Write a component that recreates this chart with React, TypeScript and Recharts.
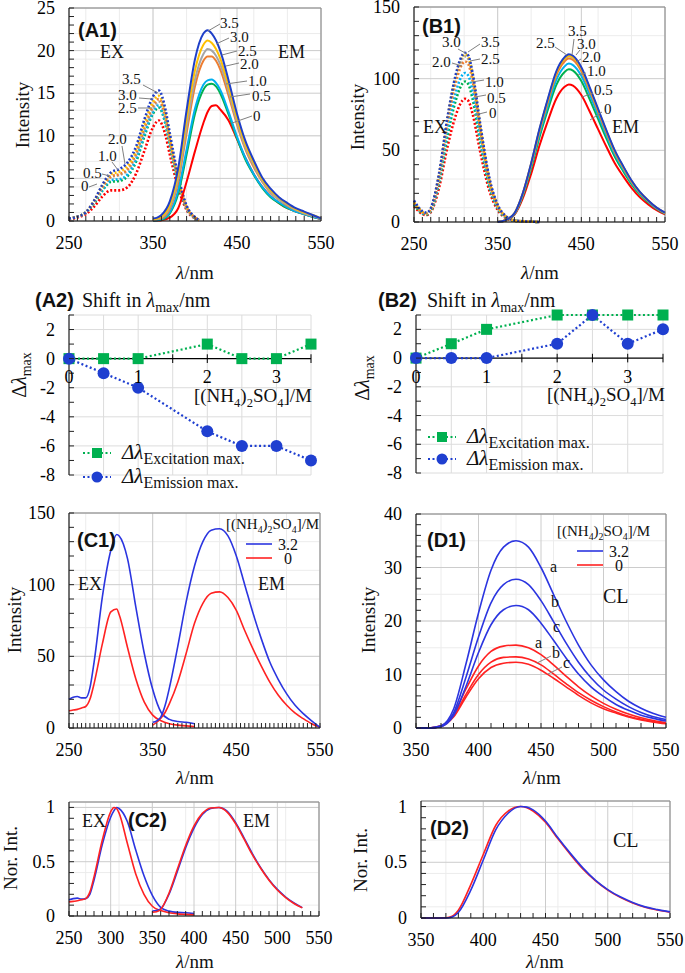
import React from "react";
import { LineChart, Line, XAxis, YAxis, CartesianGrid, ReferenceLine, ReferenceDot } from "recharts";

const SERIF = '"Liberation Serif", "Times New Roman", serif';
const SANS = '"Liberation Sans", Arial, sans-serif';

// colours per (NH4)2SO4 concentration (A1, B1)
const C0 = "#ff0000";
const C05 = "#00b050";
const C10 = "#00b0f0";
const C20 = "#ed7d31";
const C25 = "#a5a5a5";
const C30 = "#ffc000";
const C35 = "#1f3fc8";
const BLUE = "#2b35e0";
const RED = "#ff2222";
const GREEN = "#00b050";

// ---------- A1 ----------
const a1ExWl = [250, 260, 270, 280, 290, 300, 310, 320, 330, 340, 350, 357, 365, 370, 380, 390, 400, 405];
const a1Ex0 = [0.2, 0.4, 0.8, 1.7, 2.9, 3.6, 3.6, 4.0, 5.6, 8.3, 11.0, 11.8, 10.0, 7.8, 3.9, 1.3, 0.3, 0.1];
const a1Ex05 = [0.3, 0.5, 1.0, 2.1, 3.6, 4.6, 4.7, 5.3, 7.0, 10.0, 12.6, 13.3, 11.3, 8.9, 4.5, 1.5, 0.35, 0.1];
const a1Ex10 = [0.3, 0.5, 1.0, 2.2, 3.7, 4.8, 4.9, 5.5, 7.3, 10.3, 12.8, 13.6, 11.5, 9.1, 4.6, 1.5, 0.35, 0.1];
const a1Ex20 = [0.3, 0.5, 1.0, 2.3, 4.0, 5.2, 5.5, 6.1, 8.0, 11.0, 13.5, 14.3, 12.1, 9.5, 4.8, 1.6, 0.4, 0.1];
const a1Ex25 = [0.3, 0.5, 1.0, 2.3, 4.0, 5.2, 5.4, 6.0, 7.8, 10.8, 13.2, 14.0, 11.9, 9.3, 4.7, 1.6, 0.4, 0.1];
const a1Ex30 = [0.3, 0.5, 1.0, 2.4, 4.2, 5.5, 5.8, 6.5, 8.4, 11.5, 14.0, 14.7, 12.5, 9.8, 5.0, 1.7, 0.4, 0.1];
const a1Ex35 = [0.3, 0.5, 1.0, 2.4, 4.3, 5.7, 6.1, 6.9, 8.8, 12.0, 14.6, 15.3, 13.0, 10.3, 5.3, 1.8, 0.45, 0.1];

const a1EmWl = [350, 355, 360, 370, 380, 390, 400, 410, 415, 420, 425, 430, 440, 450, 460, 470, 480, 490, 500, 510, 520, 530, 540, 550];
const a1Em0 = [0, 0.05, 0.1, 0.4, 1.5, 4.6, 8.2, 11.5, 12.8, 13.5, 13.6, 13.1, 11.8, 9.6, 7.4, 5.5, 4.0, 2.9, 2.1, 1.5, 1.1, 0.8, 0.5, 0.2];
const a1Em05 = [0.05, 0.1, 0.15, 0.9, 3.2, 7.8, 12.6, 15.4, 16.0, 16.1, 15.8, 15.0, 12.5, 9.7, 7.2, 5.4, 3.9, 2.8, 2.1, 1.5, 1.1, 0.8, 0.5, 0.25];
const a1Em10 = [0.05, 0.1, 0.2, 1.0, 3.6, 8.4, 13.2, 16.0, 16.5, 16.6, 16.2, 15.4, 12.8, 9.9, 7.4, 5.5, 4.0, 2.9, 2.2, 1.6, 1.1, 0.8, 0.5, 0.25];
const a1Em20 = [0.1, 0.2, 0.3, 1.4, 4.6, 10.3, 15.8, 18.8, 19.3, 19.3, 18.8, 17.8, 14.7, 11.3, 8.4, 6.3, 4.6, 3.3, 2.5, 1.8, 1.3, 0.9, 0.6, 0.3];
const a1Em25 = [0.1, 0.2, 0.4, 1.6, 5.0, 11.0, 16.6, 19.6, 20.2, 20.0, 19.4, 18.4, 15.2, 11.6, 8.6, 6.5, 4.7, 3.4, 2.5, 1.9, 1.3, 0.9, 0.6, 0.3];
const a1Em30 = [0.2, 0.3, 0.5, 1.9, 5.6, 12.0, 17.7, 20.7, 21.2, 20.9, 20.2, 19.1, 15.8, 12.1, 9.0, 6.8, 4.9, 3.6, 2.7, 2.0, 1.4, 1.0, 0.7, 0.3];
const a1Em35 = [0.3, 0.4, 0.7, 2.3, 6.2, 13.0, 19.0, 22.0, 22.4, 22.0, 21.2, 20.0, 16.5, 12.6, 9.4, 7.1, 5.1, 3.8, 2.8, 2.1, 1.5, 1.1, 0.7, 0.3];

// ---------- B1 ----------
const b1ExWl = [250, 255, 260, 265, 270, 280, 290, 300, 305, 311, 315, 320, 330, 340, 350, 360, 370, 380, 390, 400];
const b1Ex0 = [11, 7.8, 5.4, 4.8, 6.8, 24, 52.5, 74.5, 82, 86, 84.5, 75.5, 46.5, 22, 8.4, 2.7, 0.8, 0.3, 0.2, 0];
const b1Ex05 = [12, 8.6, 6, 5.3, 7.6, 27.5, 60, 85, 93.5, 98, 96, 86, 53, 25, 9.6, 3.1, 0.9, 0.4, 0.2, 0];
const b1Ex10 = [12.5, 9, 6.3, 5.6, 8, 29, 64, 90.5, 99.5, 104, 102, 91.5, 56.5, 26.5, 10.2, 3.3, 1, 0.4, 0.2, 0];
const b1Ex20 = [13, 9.5, 6.7, 6, 8.6, 31.5, 69, 97.5, 107, 112, 110, 98.5, 61, 28.5, 11, 3.6, 1.1, 0.5, 0.3, 0];
const b1Ex25 = [13.5, 9.8, 6.9, 6.1, 8.9, 32.5, 71, 100.5, 110.5, 115.5, 113.5, 101.5, 63, 29.5, 11.3, 3.7, 1.1, 0.5, 0.3, 0];
const b1Ex30 = [14, 10, 7, 6.2, 9, 33, 72, 102, 112, 117, 115, 103, 64, 30, 11.5, 3.8, 1.1, 0.5, 0.3, 0];
const b1Ex35 = [15, 10.5, 7.5, 6.5, 9.5, 34, 73, 103, 113, 118, 116, 104, 65, 31, 12, 4, 1.2, 0.5, 0.3, 0];

const b1EmWl = [350, 355, 360, 370, 380, 390, 400, 410, 420, 430, 435, 440, 450, 460, 470, 480, 490, 500, 510, 520, 530, 540, 550];
const b1Em0 = [0, 0.35, 1.2, 4.9, 16.4, 33.6, 53.4, 70.6, 86, 94.3, 96, 95.2, 88.6, 77.1, 64.8, 52.5, 41, 32, 23.8, 17.2, 12.3, 8.2, 5.3];
const b1Em05 = [0, 0.4, 1.3, 5.4, 18.2, 37.3, 59.2, 78.3, 95.5, 104.7, 106.5, 105.6, 98.3, 85.6, 71.9, 58.2, 45.5, 35.5, 26.4, 19.1, 13.7, 9.1, 5.9];
const b1Em10 = [0, 0.4, 1.4, 5.6, 18.9, 38.7, 61.4, 81.2, 99, 108.6, 110.5, 109.5, 102, 88.8, 74.6, 60.4, 47.2, 36.8, 27.4, 19.8, 14.2, 9.4, 6.1];
const b1Em20 = [0, 0.5, 1.4, 5.8, 19.5, 40, 63.3, 83.8, 102.2, 112, 114, 113, 105.2, 91.6, 77, 62.3, 48.7, 38, 28.2, 20.5, 14.6, 9.7, 6.3];
const b1Em25 = [0, 0.5, 1.5, 5.9, 19.7, 40.4, 64.1, 84.8, 103.5, 113.5, 115.5, 114.5, 106.5, 92.8, 78, 63.1, 49.3, 38.5, 28.6, 20.7, 14.8, 9.9, 6.4];
const b1Em30 = [0, 0.5, 1.5, 6, 19.8, 40.6, 64.4, 85.2, 104, 114, 116, 115, 107, 93.2, 78.3, 63.4, 49.5, 38.6, 28.7, 20.8, 14.9, 9.9, 6.4];
const b1Em35 = [0, 0.5, 1.5, 6, 20, 41, 65, 86, 105, 115, 117, 116, 108, 94, 79, 64, 50, 39, 29, 21, 15, 10, 6.5];

// ---------- A2 / B2 : shift in lambda max ----------
const conc = [0, 0.5, 1, 2, 2.5, 3, 3.5];
const a2Excitation = [0, 0, 0, 1, 0, 0, 1];
const a2Emission = [0, -1, -2, -5, -6, -6, -7];
const b2Excitation = [0, 1, 2, 3, 3, 3, 3];
const b2Emission = [0, 0, 0, 1, 3, 1, 2];
const shiftXTicks = [0.5, 1, 1.5, 2, 2.5, 3, 3.5];
const shiftXLabels = [0, 1, 2, 3];
const shiftYLabels = [-8, -6, -4, -2, 0, 2];

// ---------- C1 ----------
const c1ExWl = [250, 255, 260, 265, 270, 275, 280, 290, 300, 307, 310, 320, 330, 340, 350, 360, 370, 380, 390, 400];
const c1Ex32 = [20, 21.5, 22, 21, 21, 28, 46, 92, 124, 135, 134, 118, 84, 52, 27, 11, 6, 4.5, 4, 3];
const c1Ex0 = [12, 12.5, 13, 14, 15, 20, 31, 59, 81, 83, 79, 56, 34, 18, 9, 5, 3, 2, 1.5, 1];
const c1EmWl = [350, 355, 360, 365, 370, 380, 390, 400, 410, 420, 430, 440, 450, 460, 470, 480, 490, 500, 510, 520, 530, 540, 550];
const c1Em32 = [4, 5, 8, 16, 28, 57, 88, 113, 130, 138, 139, 134, 120, 100, 80, 62, 46, 34, 24, 16, 10, 5, 0.5];
const c1Em0 = [2, 4, 7, 11, 17, 32, 52, 73, 87, 94, 95, 91, 82, 68, 55, 43, 32, 23, 16, 10.5, 6.5, 3, 0.5];

// ---------- C2 (normalised) ----------
const c2ExWl = [250, 255, 260, 265, 270, 275, 280, 290, 300, 304, 307, 310, 320, 330, 340, 350, 360, 370, 380, 390, 400];
const c2Ex32 = [0.15, 0.16, 0.165, 0.155, 0.16, 0.2, 0.33, 0.66, 0.91, 0.97, 1, 0.99, 0.87, 0.61, 0.37, 0.19, 0.08, 0.045, 0.033, 0.03, 0.022];
const c2Ex0 = [0.13, 0.135, 0.14, 0.15, 0.16, 0.22, 0.36, 0.7, 0.96, 1, 0.99, 0.95, 0.67, 0.39, 0.2, 0.09, 0.05, 0.03, 0.02, 0.015, 0.01];
const c2EmWl = [350, 355, 360, 370, 380, 390, 400, 410, 420, 430, 440, 450, 460, 470, 480, 490, 500, 510, 520, 530];
const c2Em32 = [0.045, 0.05, 0.065, 0.2, 0.41, 0.63, 0.81, 0.935, 0.99, 1, 0.965, 0.86, 0.72, 0.575, 0.445, 0.335, 0.245, 0.175, 0.12, 0.077];
const c2Em0 = [0.035, 0.04, 0.06, 0.21, 0.43, 0.65, 0.83, 0.945, 0.995, 1, 0.955, 0.85, 0.71, 0.565, 0.44, 0.33, 0.24, 0.17, 0.115, 0.075];

// ---------- D1 (CL, runs a, b, c) ----------
const d1Wl = [350, 360, 370, 380, 390, 400, 410, 420, 430, 440, 450, 460, 470, 480, 490, 500, 510, 520, 530, 540, 550];
const d1HighA = [0, 0, 0.4, 3.5, 12, 21.5, 29.5, 33.8, 35, 33.8, 30, 25, 20, 15.5, 11.8, 9, 6.8, 5, 3.7, 2.7, 2];
const d1HighB = [0, 0, 0.3, 2.8, 9.5, 17, 23.4, 26.8, 27.8, 26.8, 23.8, 19.9, 15.9, 12.3, 9.4, 7.1, 5.4, 4, 2.9, 2.1, 1.6];
const d1HighC = [0, 0, 0.26, 2.3, 7.8, 14.1, 19.3, 22.1, 22.9, 22.1, 19.6, 16.4, 13.1, 10.1, 7.7, 5.9, 4.4, 3.3, 2.4, 1.8, 1.3];
const d1ZeroA = [0, 0, 0.4, 2.6, 7.3, 11.6, 14.3, 15.3, 15.5, 15, 13.7, 11.8, 9.7, 7.7, 6, 4.6, 3.5, 2.6, 1.9, 1.4, 1];
const d1ZeroB = [0, 0, 0.35, 2.2, 6.3, 10, 12.3, 13.2, 13.3, 12.9, 11.8, 10.1, 8.3, 6.6, 5.2, 4, 3, 2.2, 1.65, 1.2, 0.85];
const d1ZeroC = [0, 0, 0.3, 2.05, 5.8, 9.2, 11.3, 12.1, 12.3, 11.9, 10.8, 9.3, 7.7, 6.1, 4.7, 3.6, 2.8, 2.05, 1.5, 1.1, 0.8];

// ---------- D2 (normalised CL) ----------
const d2Wl = [350, 360, 370, 375, 380, 390, 400, 410, 420, 430, 435, 440, 450, 460, 470, 480, 490, 500, 510, 520, 530, 540, 550];
const d2High = [0, 0, 0, 0.01, 0.05, 0.25, 0.52, 0.79, 0.94, 1, 0.995, 0.97, 0.87, 0.72, 0.58, 0.45, 0.34, 0.255, 0.19, 0.14, 0.1, 0.075, 0.055];
const d2Zero = [0, 0, 0.002, 0.015, 0.07, 0.3, 0.57, 0.83, 0.96, 1, 0.99, 0.96, 0.86, 0.71, 0.57, 0.44, 0.335, 0.25, 0.185, 0.135, 0.097, 0.072, 0.052];

// ---------- helpers ----------
type Pt = { x: number; y: number };
const pts = (xs: number[], ys: number[]): Pt[] => xs.map((x, i) => ({ x, y: ys[i] }));
const range = (a: number, b: number, s: number) => {
  const out: number[] = [];
  for (let v = a; v <= b + 1e-9; v += s) out.push(Math.round(v * 1000) / 1000);
  return out;
};
const has = (arr: number[], v: number) => arr.some((a) => Math.abs(a - v) < 1e-6);

type Series = {
  data: Pt[];
  color: string;
  width?: number;
  dash?: string;
  linear?: boolean;
  dot?: any;
};

const ex = (xs: number[], ys: number[], color: string): Series => ({ data: pts(xs, ys), color, width: 2.6, dash: "2 2" });
const em = (xs: number[], ys: number[], color: string): Series => ({ data: pts(xs, ys), color, width: 2 });
const thin = (xs: number[], ys: number[], color: string): Series => ({ data: pts(xs, ys), color, width: 1.6 });

const squareDot = (color: string) => (p: any) => (
  <rect key={`s${p.index}`} x={p.cx - 5.5} y={p.cy - 5.5} width={11} height={11} fill={color} />
);
const circleDot = (color: string) => (p: any) => (
  <circle key={`c${p.index}`} cx={p.cx} cy={p.cy} r={6} fill={color} />
);

const tickText = { fontFamily: SERIF, fontSize: 18 };

const xTick = (labels: number[], len: number) => (p: any) => {
  const v = p.payload.value;
  return (
    <g>
      <line x1={p.x} x2={p.x} y1={p.y} y2={p.y - len} stroke="#222" strokeWidth={1} />
      {has(labels, v) && (
        <text x={p.x} y={p.y + 28} textAnchor="middle" fontSize={18} fontFamily={SERIF} style={tickText} fill="#000">
          {v}
        </text>
      )}
    </g>
  );
};

const yTick = (labels: number[], len: number) => (p: any) => {
  const v = p.payload.value;
  return (
    <g>
      <line x1={p.x} x2={p.x + len} y1={p.y} y2={p.y} stroke="#222" strokeWidth={1} />
      {has(labels, v) && (
        <text x={p.x - 14} y={p.y + 6} textAnchor="end" fontSize={18} fontFamily={SERIF} style={tickText} fill="#000">
          {v}
        </text>
      )}
    </g>
  );
};

type PanelProps = {
  left: number;
  top: number;
  w: number;
  h: number;
  xDomain: [number, number];
  yDomain: [number, number];
  xTicks: number[];
  xLabels: number[];
  yTicks: number[];
  yLabels: number[];
  gridX: number[];
  gridY: number[];
  majorX: number[];
  majorY: number[];
  series: Series[];
  zeroAxis?: boolean;
  border?: boolean;
  gridColor?: string;
  majorColor?: string;
};

function Panel(props: PanelProps) {
  const {
    left, top, w, h, xDomain, yDomain, xTicks, xLabels, yTicks, yLabels,
    gridX, gridY, majorX, majorY, series, zeroAxis = false, border = true,
    gridColor = "#ececec", majorColor = "#cccccc",
  } = props;
  const YW = 60;
  const MT = 12;
  const MR = 22;
  const XH = 40;
  return (
    <div style={{ position: "absolute", left: left - YW, top: top - MT }}>
      <LineChart
        width={w + YW + MR}
        height={h + MT + XH}
        margin={{ top: MT, right: MR, left: 0, bottom: 0 }}
        style={{ fontFamily: SERIF }}
      >
        <XAxis xAxisId="m" type="number" dataKey="x" domain={xDomain} ticks={gridX} hide allowDataOverflow />
        <YAxis yAxisId="m" type="number" domain={yDomain} ticks={gridY} hide allowDataOverflow />
        <XAxis xAxisId="g" type="number" dataKey="x" domain={xDomain} ticks={majorX.length ? majorX : [xDomain[0]]} hide allowDataOverflow />
        <YAxis yAxisId="g" type="number" domain={yDomain} ticks={majorY.length ? majorY : [yDomain[0]]} hide allowDataOverflow />
        <CartesianGrid xAxisId="m" yAxisId="m" stroke={gridColor} vertical={gridX.length > 0} horizontal={gridY.length > 0} />
        {(majorX.length > 0 || majorY.length > 0) && (
          <CartesianGrid xAxisId="g" yAxisId="g" stroke={majorColor} vertical={majorX.length > 0} horizontal={majorY.length > 0} />
        )}
        {zeroAxis ? (
          <XAxis xAxisId={0} type="number" dataKey="x" domain={xDomain} height={XH} tick={false} axisLine={false} tickLine={false} />
        ) : (
          <XAxis
            xAxisId={0}
            type="number"
            dataKey="x"
            domain={xDomain}
            ticks={xTicks}
            interval={0}
            height={XH}
            tickSize={0}
            tickMargin={0}
            tickLine={false}
            axisLine={{ stroke: "#000", strokeWidth: 1 }}
            tick={xTick(xLabels, 5)}
          />
        )}
        <YAxis
          yAxisId={0}
          type="number"
          domain={yDomain}
          ticks={yTicks}
          interval={0}
          width={YW}
          tickSize={0}
          tickMargin={0}
          tickLine={false}
          axisLine={{ stroke: "#000", strokeWidth: 1 }}
          tick={yTick(yLabels, 5)}
        />
        {border && <ReferenceLine xAxisId={0} yAxisId={0} y={yDomain[1]} stroke="#8a8a8a" />}
        {border && <ReferenceLine xAxisId={0} yAxisId={0} x={xDomain[1]} stroke="#8a8a8a" />}
        {zeroAxis && <ReferenceLine xAxisId={0} yAxisId={0} y={0} stroke="#000" strokeWidth={1.2} />}
        {zeroAxis &&
          shiftXTicks.map((v) => (
            <ReferenceLine
              key={`t${v}`}
              xAxisId={0}
              yAxisId={0}
              segment={[{ x: v, y: -0.3 }, { x: v, y: 0.3 }]}
              stroke="#000"
            />
          ))}
        {zeroAxis &&
          shiftXLabels.map((v) => (
            <ReferenceDot
              key={`l${v}`}
              xAxisId={0}
              yAxisId={0}
              x={v}
              y={0}
              r={0}
              fill="none"
              stroke="none"
              label={{ value: String(v), position: "bottom", offset: 12, fontSize: 18, fontFamily: SERIF, fill: "#000", style: tickText }}
            />
          ))}
        {series.map((s, i) => (
          <Line
            key={i}
            xAxisId={0}
            yAxisId={0}
            data={s.data}
            dataKey="y"
            type={s.linear ? "linear" : "monotone"}
            stroke={s.color}
            strokeWidth={s.width ?? 1.6}
            strokeDasharray={s.dash}
            dot={s.dot ?? false}
            activeDot={false}
            isAnimationActive={false}
          />
        ))}
      </LineChart>
    </div>
  );
}

// ---------- overlay text helpers ----------
const T = ({ x, y, s = 18, a = "start", b = false, f = SERIF, children }: any) => (
  <text x={x} y={y} fontSize={s} textAnchor={a} fontWeight={b ? 700 : 400} fontFamily={f} fill="#111">
    {children}
  </text>
);
const L = ({ x1, y1, x2, y2 }: any) => <line x1={x1} y1={y1} x2={x2} y2={y2} stroke="#808080" strokeWidth={1} />;
const Lam = ({ x, y }: any) => (
  <text x={x} y={y} fontSize={19} textAnchor="middle" fontFamily={SERIF} fill="#111">
    <tspan fontStyle="italic">λ</tspan>/nm
  </text>
);
const VT = ({ x, y, s = 19, children }: any) => (
  <text transform={`translate(${x},${y}) rotate(-90)`} fontSize={s} textAnchor="middle" dominantBaseline="central" fontFamily={SERIF} fill="#111">
    {children}
  </text>
);
const Salt = ({ x, y, s, a = "start" }: any) => {
  const sub = s * 0.66;
  const d = s * 0.28;
  return (
    <text x={x} y={y} fontSize={s} textAnchor={a} fontFamily={SERIF} fill="#111">
      [(NH<tspan fontSize={sub} dy={d}>4</tspan>
      <tspan dy={-d}>)</tspan>
      <tspan fontSize={sub} dy={d}>2</tspan>
      <tspan dy={-d}>SO</tspan>
      <tspan fontSize={sub} dy={d}>4</tspan>
      <tspan dy={-d}>]/M</tspan>
    </text>
  );
};
const Shift = ({ x, y }: any) => (
  <text x={x} y={y} fontSize={20} fontFamily={SERIF} fill="#111">
    Shift in <tspan fontStyle="italic">λ</tspan>
    <tspan fontSize={14} dy={5}>max</tspan>
    <tspan dy={-5}>/nm</tspan>
  </text>
);
const DLmax = ({ x, y }: any) => (
  <text transform={`translate(${x},${y}) rotate(-90)`} fontSize={20} textAnchor="middle" fontFamily={SERIF} fill="#111">
    Δ<tspan fontStyle="italic">λ</tspan>
    <tspan fontSize={14} dy={5}>max</tspan>
  </text>
);
const LegRow = ({ x, y, color, marker, label }: any) => (
  <g>
    <line x1={x} x2={x + 28} y1={y} y2={y} stroke={color} strokeWidth={2.2} strokeDasharray="2 2.5" />
    {marker === "square" ? (
      <rect x={x + 9} y={y - 5} width={10} height={10} fill={color} />
    ) : (
      <circle cx={x + 14} cy={y} r={5.5} fill={color} />
    )}
    <text x={x + 39} y={y + 6} fontSize={21} fontFamily={SERIF} fill="#111">
      <tspan fontStyle="italic">Δλ</tspan>
      <tspan fontSize={16} dy={5}>{label}</tspan>
    </text>
  </g>
);
const SwatchLeg = ({ x, y, s = 15 }: any) => (
  <g>
    <Salt x={x} y={y} s={s} />
    <line x1={x + 20} x2={x + 46} y1={y + 15} y2={y + 15} stroke={BLUE} strokeWidth={1.6} />
    <T x={x + 52} y={y + 21} s={16}>3.2</T>
    <line x1={x + 20} x2={x + 46} y1={y + 29} y2={y + 29} stroke={RED} strokeWidth={1.6} />
    <T x={x + 58} y={y + 35} s={16}>0</T>
  </g>
);

export default function App() {
  const a1Series: Series[] = [
    ex(a1ExWl, a1Ex0, C0), ex(a1ExWl, a1Ex05, C05), ex(a1ExWl, a1Ex10, C10), ex(a1ExWl, a1Ex25, C25),
    ex(a1ExWl, a1Ex20, C20), ex(a1ExWl, a1Ex30, C30), ex(a1ExWl, a1Ex35, C35),
    em(a1EmWl, a1Em0, C0), em(a1EmWl, a1Em05, C05), em(a1EmWl, a1Em10, C10), em(a1EmWl, a1Em20, C20),
    em(a1EmWl, a1Em25, C25), em(a1EmWl, a1Em30, C30), em(a1EmWl, a1Em35, C35),
  ];
  const b1Series: Series[] = [
    ex(b1ExWl, b1Ex0, C0), ex(b1ExWl, b1Ex05, C05), ex(b1ExWl, b1Ex10, C10), ex(b1ExWl, b1Ex25, C25),
    ex(b1ExWl, b1Ex20, C20), ex(b1ExWl, b1Ex30, C30), ex(b1ExWl, b1Ex35, C35),
    em(b1EmWl, b1Em0, C0), em(b1EmWl, b1Em05, C05), em(b1EmWl, b1Em10, C10), em(b1EmWl, b1Em25, C25),
    em(b1EmWl, b1Em20, C20), em(b1EmWl, b1Em30, C30), em(b1EmWl, b1Em35, C35),
  ];
  const shiftSeries = (exc: number[], emi: number[]): Series[] => [
    { data: pts(conc, exc), color: GREEN, width: 2.2, dash: "2 2.5", linear: true, dot: squareDot(GREEN) },
    { data: pts(conc, emi), color: "#1f3fd0", width: 2.2, dash: "2 2.5", linear: true, dot: circleDot("#1f3fd0") },
  ];
  const c1Series: Series[] = [
    thin(c1ExWl, c1Ex0, RED), thin(c1ExWl, c1Ex32, BLUE), thin(c1EmWl, c1Em0, RED), thin(c1EmWl, c1Em32, BLUE),
  ];
  const c2Series: Series[] = [
    thin(c2ExWl, c2Ex32, BLUE), thin(c2ExWl, c2Ex0, RED), thin(c2EmWl, c2Em32, BLUE), thin(c2EmWl, c2Em0, RED),
  ];
  const d1Series: Series[] = [
    thin(d1Wl, d1ZeroA, RED), thin(d1Wl, d1ZeroB, RED), thin(d1Wl, d1ZeroC, RED),
    thin(d1Wl, d1HighA, BLUE), thin(d1Wl, d1HighB, BLUE), thin(d1Wl, d1HighC, BLUE),
  ];
  const d2Series: Series[] = [thin(d2Wl, d2Zero, RED), thin(d2Wl, d2High, BLUE)];

  return (
    <div style={{ position: "absolute", left: 0, top: 0, width: 685, height: 973, background: "#fff", overflow: "hidden" }}>
      <Panel
        left={69} top={8} w={252} h={213}
        xDomain={[250, 550]} yDomain={[0, 25]}
        xTicks={range(250, 550, 10)} xLabels={[250, 350, 450, 550]}
        yTicks={range(0, 25, 1)} yLabels={[0, 5, 10, 15, 20, 25]}
        gridX={range(250, 550, 10)} gridY={range(0, 25, 1)}
        majorX={[350, 450]} majorY={[5, 10, 15, 20]}
        series={a1Series}
      />
      <Panel
        left={414} top={7} w={251} h={215}
        xDomain={[250, 550]} yDomain={[0, 150]}
        xTicks={range(250, 550, 10)} xLabels={[250, 350, 450, 550]}
        yTicks={range(0, 150, 10)} yLabels={[0, 50, 100, 150]}
        gridX={range(250, 550, 10)} gridY={range(0, 150, 10)}
        majorX={[350, 450]} majorY={[50, 100]}
        series={b1Series}
      />
      <Panel
        left={69} top={315} w={242} h={160}
        xDomain={[0, 3.5]} yDomain={[-8, 3]}
        xTicks={[]} xLabels={[]}
        yTicks={range(-8, 3, 1)} yLabels={shiftYLabels}
        gridX={range(0, 3.5, 0.5)} gridY={[-8, -6, -4, -2, 2]}
        majorX={[]} majorY={[]}
        series={shiftSeries(a2Excitation, a2Emission)}
        zeroAxis border={false} gridColor="#dcdcdc"
      />
      <Panel
        left={416} top={315} w={247} h={158}
        xDomain={[0, 3.5]} yDomain={[-8, 3]}
        xTicks={[]} xLabels={[]}
        yTicks={range(-8, 3, 1)} yLabels={shiftYLabels}
        gridX={range(0, 3.5, 0.5)} gridY={[-8, -6, -4, -2, 2]}
        majorX={[]} majorY={[]}
        series={shiftSeries(b2Excitation, b2Emission)}
        zeroAxis border={false} gridColor="#dcdcdc"
      />
      <Panel
        left={69} top={513} w={251} h={215}
        xDomain={[250, 550]} yDomain={[0, 150]}
        xTicks={range(250, 550, 5)} xLabels={[250, 350, 450, 550]}
        yTicks={range(0, 150, 10)} yLabels={[0, 50, 100, 150]}
        gridX={range(250, 550, 10)} gridY={range(0, 150, 10)}
        majorX={[350, 450]} majorY={[50, 100]}
        series={c1Series}
      />
      <Panel
        left={416} top={514} w={250} h={214}
        xDomain={[350, 550]} yDomain={[0, 40]}
        xTicks={range(350, 550, 10)} xLabels={[350, 400, 450, 500, 550]}
        yTicks={range(0, 40, 2)} yLabels={[0, 10, 20, 30, 40]}
        gridX={range(350, 550, 10)} gridY={range(0, 40, 5)}
        majorX={[400, 450, 500]} majorY={[10, 20, 30]}
        series={d1Series}
      />
      <Panel
        left={69} top={802} w={250} h={114}
        xDomain={[250, 550]} yDomain={[0, 1.05]}
        xTicks={range(250, 550, 10)} xLabels={[250, 300, 350, 400, 450, 500, 550]}
        yTicks={range(0, 1, 0.1)} yLabels={[0, 0.5, 1]}
        gridX={range(250, 550, 10)} gridY={range(0, 1, 0.1)}
        majorX={[300, 350, 400, 450, 500]} majorY={[0.5, 1]}
        series={c2Series}
      />
      <Panel
        left={421} top={801} w={249} h={117}
        xDomain={[350, 550]} yDomain={[0, 1.05]}
        xTicks={range(350, 550, 10)} xLabels={[350, 400, 450, 500, 550]}
        yTicks={range(0, 1, 0.1)} yLabels={[0, 0.5, 1]}
        gridX={range(350, 550, 10)} gridY={range(0, 1, 0.1)}
        majorX={[400, 450, 500]} majorY={[0.5, 1]}
        series={d2Series}
      />

      <svg width={685} height={973} style={{ position: "absolute", left: 0, top: 0, pointerEvents: "none" }}>
        {/* A1 */}
        <T x={78} y={37} s={20} b f={SANS}>(A1)</T>
        <T x={100} y={58}>EX</T>
        <T x={278} y={58}>EM</T>
        <T x={220} y={28} s={15}>3.5</T><L x1={208} y1={31} x2={220} y2={24} />
        <T x={230} y={42} s={15}>3.0</T><L x1={216} y1={44} x2={229} y2={38} />
        <T x={238} y={56} s={15}>2.5</T><L x1={222} y1={55} x2={237} y2={51} />
        <T x={240} y={69} s={15}>2.0</T><L x1={226} y1={66} x2={239} y2={63} />
        <T x={248} y={86} s={15}>1.0</T><L x1={226} y1={84} x2={247} y2={81} />
        <T x={252} y={101} s={15}>0.5</T><L x1={230} y1={97} x2={250} y2={94} />
        <T x={253} y={121} s={15}>0</T><L x1={232} y1={123} x2={252} y2={116} />
        <T x={122} y={84} s={15}>3.5</T><L x1={143} y1={85} x2={158} y2={93} />
        <T x={118} y={100} s={15}>3.0</T><L x1={139} y1={98} x2={152} y2={99} />
        <T x={118} y={113} s={15}>2.5</T><L x1={138} y1={108} x2={152} y2={108} />
        <T x={108} y={144} s={15}>2.0</T><L x1={122} y1={146} x2={125} y2={164} />
        <T x={98} y={161} s={15}>1.0</T><L x1={112} y1={162} x2={118} y2={170} />
        <T x={83} y={178} s={15}>0.5</T><L x1={102} y1={174} x2={110} y2={176} />
        <T x={81} y={191} s={15}>0</T><L x1={89} y1={187} x2={97} y2={184} />
        <VT x={22} y={115}>Intensity</VT>
        <Lam x={195} y={279} />

        {/* B1 */}
        <T x={422} y={33} s={20} b f={SANS}>(B1)</T>
        <T x={423} y={133}>EX</T>
        <T x={612} y={133}>EM</T>
        <T x={442} y={47} s={15}>3.0</T><L x1={458} y1={49} x2={467} y2={54} />
        <T x={481} y={47} s={15}>3.5</T><L x1={468} y1={52} x2={480} y2={44} />
        <T x={432} y={67} s={15}>2.0</T><L x1={452} y1={63} x2={462} y2={66} />
        <T x={481} y={64} s={15}>2.5</T><L x1={470} y1={61} x2={480} y2={59} />
        <T x={485} y={87} s={15}>1.0</T><L x1={472} y1={82} x2={484} y2={80} />
        <T x={487} y={103} s={15}>0.5</T><L x1={475} y1={97} x2={486} y2={95} />
        <T x={489} y={118} s={15}>0</T><L x1={475} y1={115} x2={487} y2={112} />
        <T x={536} y={48} s={15}>2.5</T><L x1={555} y1={47} x2={567} y2={55} />
        <T x={568} y={36} s={15}>3.5</T><L x1={574} y1={39} x2={572} y2={55} />
        <T x={577} y={49} s={15}>3.0</T><L x1={576} y1={55} x2={580} y2={50} />
        <T x={582} y={62} s={15}>2.0</T><L x1={576} y1={62} x2={581} y2={59} />
        <T x={587} y={76} s={15}>1.0</T><L x1={578} y1={75} x2={586} y2={73} />
        <T x={594} y={95} s={15}>0.5</T><L x1={582} y1={97} x2={593} y2={93} />
        <T x={604} y={114} s={15}>0</T><L x1={590} y1={120} x2={602} y2={112} />
        <VT x={357} y={117}>Intensity</VT>
        <Lam x={540} y={279} />

        {/* A2 */}
        <T x={35} y={307} s={20} b f={SANS}>(A2)</T>
        <Shift x={82} y={307} />
        <Salt x={312} y={402} s={19} a="end" />
        <DLmax x={26} y={375} />
        <LegRow x={83} y={453} color={GREEN} marker="square" label="Excitation max." />
        <LegRow x={83} y={477} color="#1f3fd0" marker="circle" label="Emission max." />

        {/* B2 */}
        <T x={378} y={307} s={20} b f={SANS}>(B2)</T>
        <Shift x={427} y={307} />
        <Salt x={665} y={401} s={19} a="end" />
        <DLmax x={369} y={378} />
        <LegRow x={428} y={437} color={GREEN} marker="square" label="Excitation max." />
        <LegRow x={428} y={459} color="#1f3fd0" marker="circle" label="Emission max." />

        {/* C1 */}
        <T x={77} y={547} s={20} b f={SANS}>(C1)</T>
        <T x={78} y={590}>EX</T>
        <T x={258} y={590}>EM</T>
        <SwatchLeg x={226} y={529} />
        <VT x={14} y={620}>Intensity</VT>
        <Lam x={195} y={784} />

        {/* D1 */}
        <T x={427} y={547} s={20} b f={SANS}>(D1)</T>
        <SwatchLeg x={557} y={536} />
        <T x={603} y={603} s={20}>CL</T>
        <T x={550} y={572} s={16}>a</T>
        <T x={551} y={607} s={16}>b</T>
        <T x={553} y={632} s={16}>c</T>
        <T x={535} y={648} s={16}>a</T>
        <T x={552} y={658} s={16}>b</T><L x1={537} y1={663} x2={551} y2={656} />
        <T x={563} y={668} s={16}>c</T><L x1={548} y1={674} x2={562} y2={667} />
        <VT x={368} y={620}>Intensity</VT>
        <Lam x={542} y={784} />

        {/* C2 */}
        <T x={82} y={827}>EX</T>
        <T x={128} y={827} s={20} b f={SANS}>(C2)</T>
        <T x={243} y={827}>EM</T>
        <VT x={10} y={858}>Nor. Int.</VT>
        <Lam x={195} y={968} />

        {/* D2 */}
        <T x={430} y={835} s={20} b f={SANS}>(D2)</T>
        <T x={613} y={847} s={20}>CL</T>
        <VT x={360} y={860}>Nor. Int.</VT>
        <Lam x={545} y={968} />
      </svg>
    </div>
  );
}
